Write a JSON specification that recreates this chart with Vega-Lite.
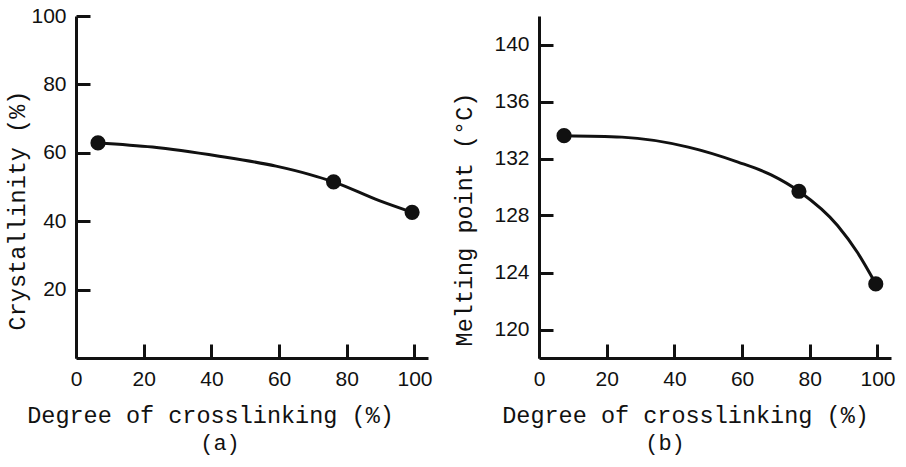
{
  "$schema": "https://vega.github.io/schema/vega-lite/v6.json",
  "background": "white",
  "padding": {"left": 5, "top": 5, "right": 5, "bottom": 5},
  "bounds": "flush",
  "spacing": 111,
  "datasets": {
    "a": [
      {"x": 6.5, "y": 62.9, "kind": "measured"},
      {"x": 22.6, "y": 61.7, "kind": "curve"},
      {"x": 42.3, "y": 59.0, "kind": "curve"},
      {"x": 59.1, "y": 56.1, "kind": "curve"},
      {"x": 68.9, "y": 53.7, "kind": "curve"},
      {"x": 76.1, "y": 51.5, "kind": "measured"},
      {"x": 89.6, "y": 46.0, "kind": "curve"},
      {"x": 99.3, "y": 42.6, "kind": "measured"}
    ],
    "b": [
      {"x": 7.4, "y": 133.6, "kind": "measured"},
      {"x": 24.5, "y": 133.5, "kind": "curve"},
      {"x": 44.1, "y": 132.8, "kind": "curve"},
      {"x": 58.8, "y": 131.75, "kind": "curve"},
      {"x": 68.6, "y": 130.85, "kind": "curve"},
      {"x": 76.8, "y": 129.7, "kind": "measured"},
      {"x": 88.2, "y": 127.3, "kind": "curve"},
      {"x": 94.1, "y": 125.4, "kind": "curve"},
      {"x": 99.5, "y": 123.2, "kind": "measured"}
    ]
  },
  "hconcat": [
    {
      "width": 352,
      "height": 342,
      "title": {"text": "(a)", "orient": "bottom", "dx": -32, "offset": 6},
      "data": {"name": "a"},
      "encoding": {
        "x": {
          "field": "x", "type": "quantitative",
          "scale": {"domain": [0, 104], "nice": false, "zero": false},
          "axis": {"values": [0, 20, 40, 60, 80, 100], "title": "Degree of crosslinking (%)", "titleX": 134, "titleY": 64, "titleAlign": "center", "titleBaseline": "alphabetic"}
        },
        "y": {
          "field": "y", "type": "quantitative",
          "scale": {"domain": [0, 100], "nice": false, "zero": false},
          "axis": {"values": [20, 40, 60, 80, 100], "title": "Crystallinity (%)", "titleX": -59, "titleY": 194, "titleAngle": -90, "titleAlign": "center", "titleBaseline": "middle"}
        }
      },
      "layer": [
        {"mark": {"type": "line", "interpolate": "monotone", "color": "#111", "strokeWidth": 3}},
        {"transform": [{"filter": "datum.kind === 'measured'"}], "mark": {"type": "point", "filled": true, "color": "#111", "size": 230, "opacity": 1}}
      ]
    },
    {
      "width": 352,
      "height": 342,
      "title": {"text": "(b)", "orient": "bottom", "dx": -50, "offset": 6},
      "data": {"name": "b"},
      "encoding": {
        "x": {
          "field": "x", "type": "quantitative",
          "scale": {"domain": [0, 104], "nice": false, "zero": false},
          "axis": {"values": [0, 20, 40, 60, 80, 100], "title": "Degree of crosslinking (%)", "titleX": 146, "titleY": 64, "titleAlign": "center", "titleBaseline": "alphabetic"}
        },
        "y": {
          "field": "y", "type": "quantitative",
          "scale": {"domain": [118, 142], "nice": false, "zero": false},
          "axis": {"values": [120, 124, 128, 132, 136, 140], "title": "Melting point (°C)", "titleX": -75, "titleY": 203, "titleAngle": -90, "titleAlign": "center", "titleBaseline": "middle"}
        }
      },
      "layer": [
        {"mark": {"type": "line", "interpolate": "monotone", "color": "#111", "strokeWidth": 3}},
        {"transform": [{"filter": "datum.kind === 'measured'"}], "mark": {"type": "point", "filled": true, "color": "#111", "size": 230, "opacity": 1}}
      ]
    }
  ],
  "config": {
    "view": {"stroke": null},
    "axis": {
      "grid": false,
      "domainColor": "#111",
      "domainWidth": 3,
      "tickColor": "#111",
      "tickWidth": 3,
      "tickSize": -14,
      "labelPadding": 24,
      "labelFont": "Liberation Sans",
      "labelFontSize": 21,
      "labelColor": "#111",
      "labelFlush": false,
      "labelOverlap": false,
      "titleFont": "Liberation Mono",
      "titleFontSize": 23.5,
      "titleFontWeight": "normal",
      "titleColor": "#111"
    },
    "title": {"font": "Liberation Mono", "fontSize": 22, "fontWeight": "normal", "color": "#111", "anchor": "middle"}
  }
}
